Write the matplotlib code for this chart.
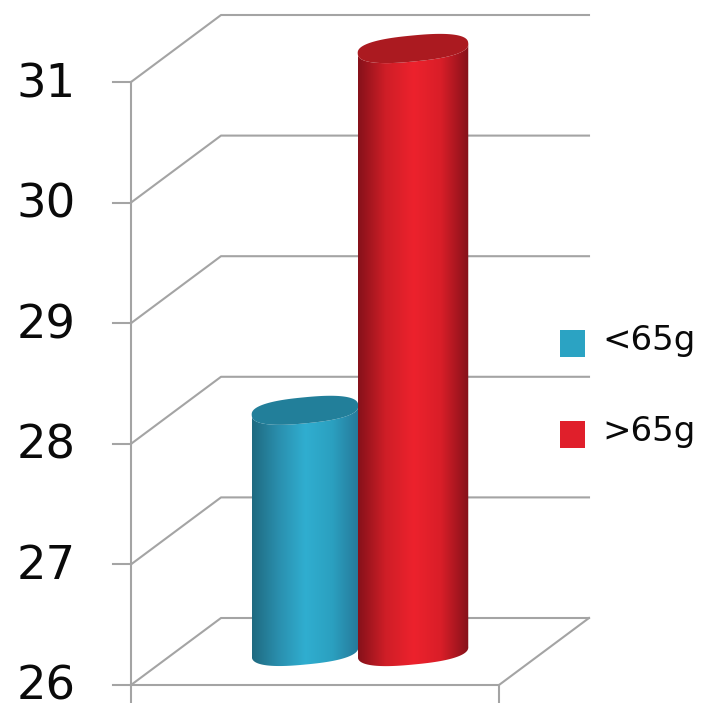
import numpy as np
import matplotlib
matplotlib.use("Agg")
import matplotlib.pyplot as plt
from matplotlib.colors import LinearSegmentedColormap
from matplotlib.patches import PathPatch, Polygon, Rectangle
from matplotlib.path import Path

# chart data
groups = ["<65g", ">65g"]
values = [28, 31]
y_ticks = [26, 27, 28, 29, 30, 31]

blue_stops = ["#1f6a80", "#2a8fae", "#30aed0", "#2ba0c0", "#26799a"]
red_stops = ["#86111a", "#cf1e27", "#ed222d", "#d91e28", "#85111a"]
cap_colors = ["#227f9a", "#ab1a20"]
legend_colors = ["#2ba3c3", "#e01f2b"]
GRID = "#a4a4a4"
TEXT = "#0a0a0a"

# plot box in figure pixels
X0, X1 = 131, 499
Y_BASE = 685
UNIT = 120.6
DX, DY = 90, -67


def val_y(v):
    return Y_BASE - (v - y_ticks[0]) * UNIT


def ellipse(cx, cy, a, b, t):
    # slightly squared off ellipse, tilted up to the right
    th = np.radians(5.5)
    c = np.sign(np.cos(t)) * np.abs(np.cos(t)) ** 0.8
    s = np.sign(np.sin(t)) * np.abs(np.sin(t)) ** 0.8
    x = cx + a * c * np.cos(th) + b * s * np.sin(th)
    y = cy - a * c * np.sin(th) + b * s * np.cos(th)
    return np.column_stack([x, y])


def cylinder(ax, cx, value, half_w, stops, cap):
    y_top = val_y(value) + DY / 2
    y_bot = val_y(y_ticks[0]) + DY / 2
    t = np.linspace(0, np.pi, 60)
    outline = np.vstack([ellipse(cx, y_bot, half_w, 13, t), ellipse(cx, y_top, half_w, 13, t[::-1])])
    body = Polygon(outline, closed=True, fc="none", ec="none", zorder=3)
    ax.add_patch(body)
    cmap = LinearSegmentedColormap.from_list("cyl", stops)
    grad = np.linspace(0, 1, 256).reshape(1, -1)
    im = ax.imshow(grad, cmap=cmap, extent=[cx - half_w, cx + half_w, y_bot + 30, y_top - 30],
                   aspect="auto", zorder=3)
    im.set_clip_path(body)
    top = ellipse(cx, y_top, half_w, 13, np.linspace(0, 2 * np.pi, 120))
    ax.add_patch(PathPatch(Path(top, closed=False), fc=cap, ec="none", zorder=3))


fig = plt.figure(figsize=(7.02, 7.03), dpi=100)
ax = fig.add_axes([0, 0, 1, 1])

# walls and gridlines
for v in y_ticks:
    y = val_y(v)
    ax.plot([X0, X0 + DX, X1 + DX], [y, y + DY, y + DY], color=GRID, lw=1.5, zorder=1)
    ax.plot([X0 - 18, X0], [y, y], color=GRID, lw=1.5, zorder=1)
    ax.text(46, y + 15, str(v), fontsize=33.5, color=TEXT, ha="center", va="baseline")

ax.plot([X0, X0], [val_y(y_ticks[-1]), 703], color=GRID, lw=1.5, zorder=1)
ax.plot([X0, X1, X1 + DX], [Y_BASE, Y_BASE, Y_BASE + DY], color=GRID, lw=1.5, zorder=1)
ax.plot([X1, X1], [Y_BASE, 703], color=GRID, lw=1.5, zorder=1)

# bars
cylinder(ax, 305, values[0], 53.5, blue_stops, cap_colors[0])
cylinder(ax, 413, values[1], 55.5, red_stops, cap_colors[1])

# legend
for name, col, y in zip(groups, legend_colors, [330, 421]):
    ax.add_patch(Rectangle((560, y), 25, 27, fc=col, ec="none", zorder=3))
    ax.text(602, y + 20, name, fontsize=24.5, color=TEXT, ha="left", va="baseline")

ax.set_xlim(0, 702)
ax.set_ylim(703, 0)
ax.axis("off")
fig.savefig("out.png", dpi=100, facecolor="white")
